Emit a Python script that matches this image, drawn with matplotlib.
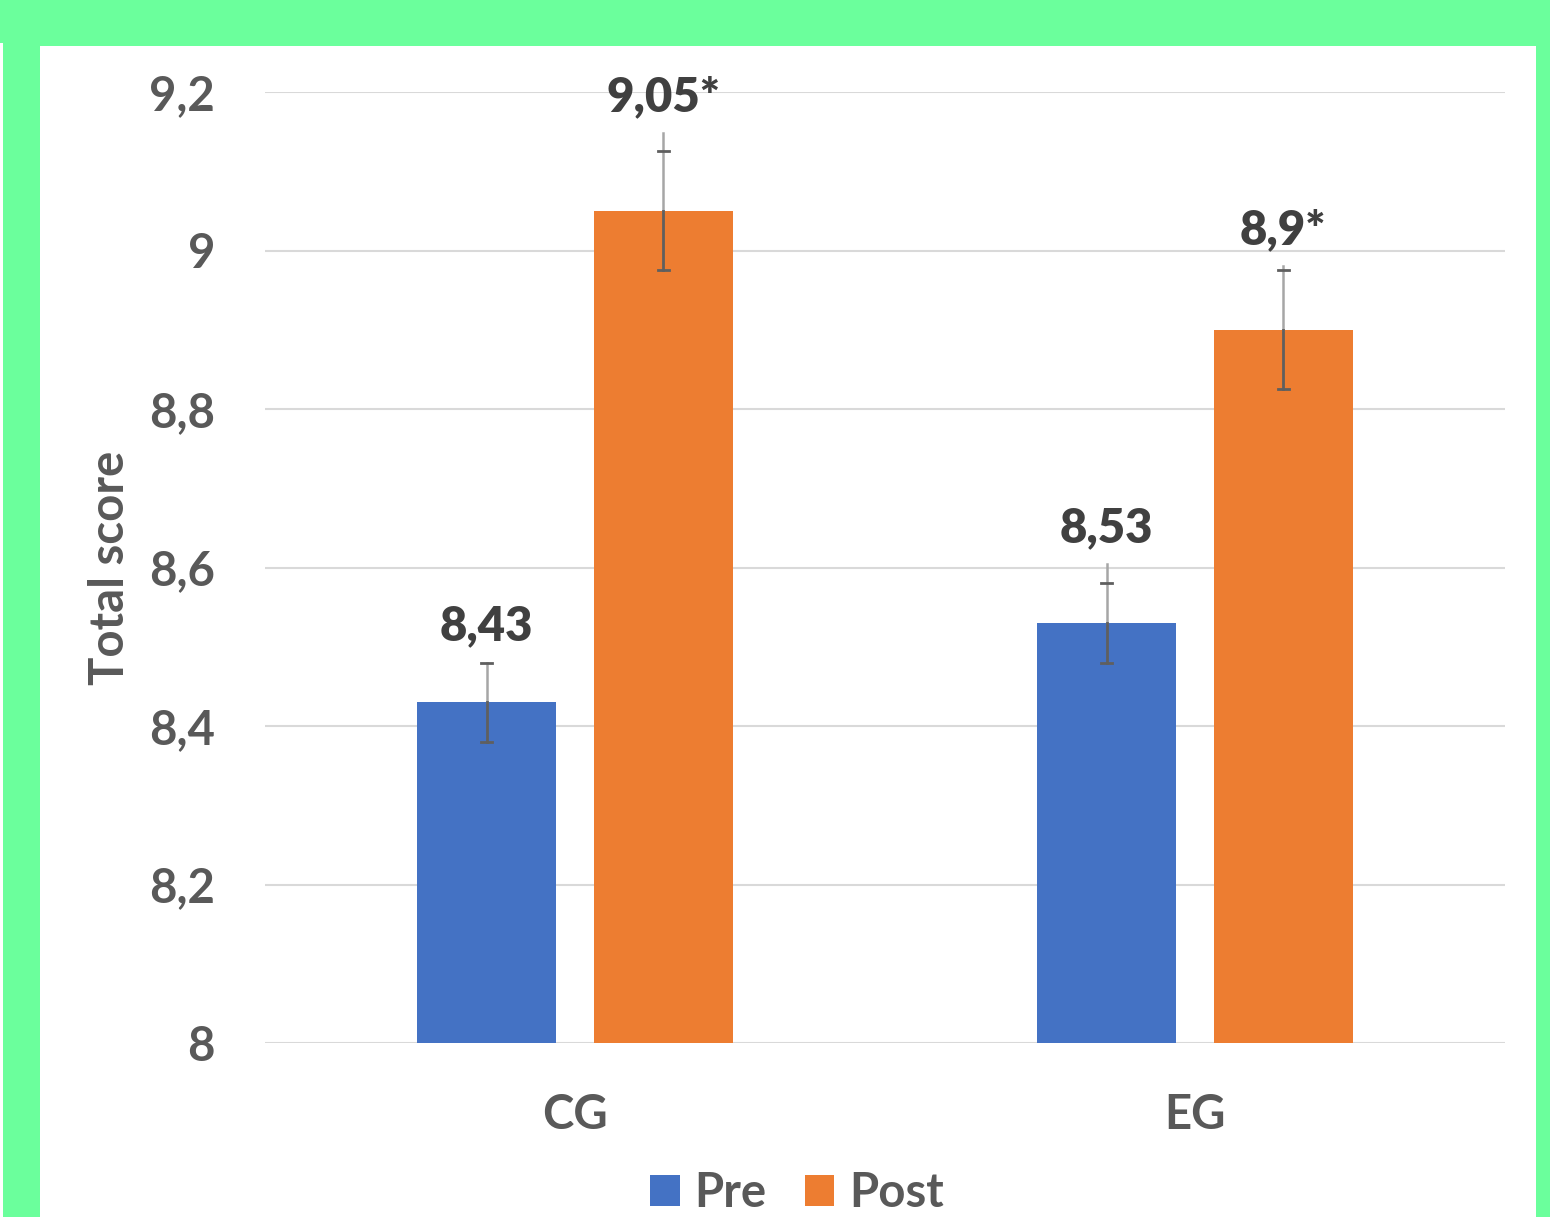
import numpy as np
import matplotlib.pyplot as plt
from matplotlib.patches import Rectangle

groups = ['CG', 'EG']
series = ['Pre', 'Post']
pre_vals = [8.43, 8.53]
post_vals = [9.05, 8.90]
pre_err = [0.05, 0.05]
post_err = [0.075, 0.075]
# faint upper whisker line that runs past the cap on some bars
pre_ext = [8.48, 8.604]
post_ext = [9.148, 8.98]
pre_labels = ['8,43', '8,53']
post_labels = ['9,05*', '8,9*']
yticks = [8, 8.2, 8.4, 8.6, 8.8, 9, 9.2]
ytick_labels = ['8', '8,2', '8,4', '8,6', '8,8', '9', '9,2']

blue = '#4472C4'
orange = '#ED7D31'
txt = '#595959'
green = '#6BFF9C'
fs = 34

plt.rcParams['font.family'] = ['Lato', 'DejaVu Sans']
plt.rcParams['font.weight'] = 'bold'

fig = plt.figure(figsize=(15.5, 12.17), dpi=100, facecolor=green)
# white panel inside the green frame
fig.patches.append(Rectangle((40/1550, 0), (1536-40)/1550, 1-46/1217,
                             transform=fig.transFigure, facecolor='white',
                             edgecolor='none', zorder=-5))
fig.patches.append(Rectangle((0, 0), 3/1550, 1-43/1217,
                             transform=fig.transFigure, facecolor='white',
                             edgecolor='none', zorder=-5))

ax = fig.add_axes([265/1550, 1-1043/1217, 1240/1550, (1043-92)/1217])
ax.set_facecolor('none')

x = np.arange(len(groups))
w = 0.224
off = 0.1425

for vals, errs, ext, labels, col, sgn, name in [
        (pre_vals, pre_err, pre_ext, pre_labels, blue, -1, 'Pre'),
        (post_vals, post_err, post_ext, post_labels, orange, 1, 'Post')]:
    xs = x + sgn * off
    ax.bar(xs, np.array(vals) - 8, width=w, bottom=8, color=col, label=name, zorder=2)
    for xi, v, e, t, lab in zip(xs, vals, errs, ext, labels):
        # part above bar: lighter, part inside bar: dark
        ax.plot([xi, xi], [v, max(t, v + e)], color='#a6a6a6', lw=1.8, zorder=3)
        ax.plot([xi, xi], [v - e, v], color='#5f5f5f', lw=2, zorder=3)
        for cy in (v - e, v + e):
            ax.plot([xi - 0.009, xi + 0.009], [cy, cy], color='#5f5f5f', lw=2, zorder=4)
        ax.annotate(lab, (xi, max(t, v + e)), xytext=(0, 10), textcoords='offset points',
                    ha='center', va='bottom', fontsize=fs, fontweight='heavy',
                    color='#404040', zorder=5)

ax.set_xlim(-0.5, 1.5)
ax.set_ylim(8, 9.2)
ax.set_yticks(yticks)
ax.set_yticklabels(ytick_labels)
ax.set_xticks(x)
ax.set_xticklabels(groups)
ax.tick_params(axis='y', length=0, pad=36, labelsize=fs, labelcolor=txt)
ax.tick_params(axis='x', length=0, pad=36, labelsize=fs, labelcolor=txt)
ax.grid(axis='y', color='#d9d9d9', lw=1.5, zorder=0)
ax.set_axisbelow(True)
for s in ax.spines.values():
    s.set_visible(False)

fig.text(110/1550, 1-568/1217, 'Total score', rotation=90, ha='center', va='center',
         fontsize=fs, fontweight='bold', color=txt)

leg = fig.legend(loc='center', bbox_to_anchor=(797/1550, 1-1193/1217), ncol=2,
                 frameon=False, fontsize=fs, handlelength=0.62, handleheight=0.62,
                 handletextpad=0.32, columnspacing=0.8, borderpad=0)
for t in leg.get_texts():
    t.set_color(txt)
    t.set_fontweight('bold')

fig.savefig('out.png', dpi=100, facecolor=fig.get_facecolor())
